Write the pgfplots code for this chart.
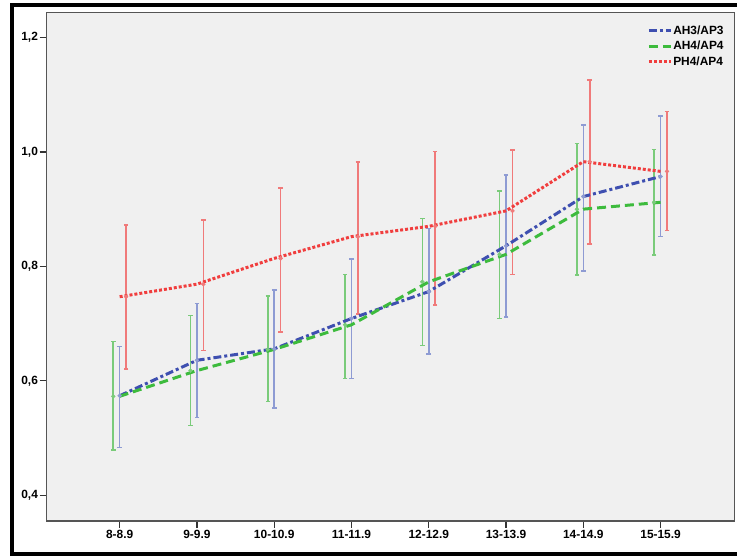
\documentclass[border=0pt]{standalone}
\usepackage{pgfplots}
\pgfplotsset{compat=1.18}
\usepackage{pgfplotstable}
\usepackage{fontspec}
\setmainfont{Liberation Sans}
\definecolor{lblue}{HTML}{3E4FB0}
\definecolor{lgreen}{HTML}{3DBB3D}
\definecolor{lred}{HTML}{F03E3E}
\definecolor{eblue}{HTML}{8E9BD3}
\definecolor{egreen}{HTML}{7ACB7A}
\definecolor{ered}{HTML}{F07A7A}
\definecolor{bgc}{HTML}{F0F0F0}
\definecolor{axgray}{HTML}{555555}

% x  mean  upper  lower
\pgfplotstableread{
x y hi lo
0 0.574 0.660 0.484
1 0.636 0.735 0.536
2 0.656 0.759 0.553
3 0.709 0.813 0.604
4 0.756 0.866 0.647
5 0.836 0.960 0.712
6 0.922 1.047 0.792
7 0.957 1.063 0.852
}\tblue
\pgfplotstableread{
x y hi lo
0 0.573 0.669 0.479
1 0.618 0.714 0.522
2 0.655 0.748 0.564
3 0.698 0.786 0.604
4 0.773 0.884 0.662
5 0.821 0.932 0.709
6 0.900 1.015 0.785
7 0.912 1.004 0.820
}\tgreen
\pgfplotstableread{
x y hi lo
0 0.747 0.872 0.621
1 0.769 0.881 0.653
2 0.814 0.937 0.685
3 0.852 0.982 0.717
4 0.870 1.001 0.733
5 0.897 1.003 0.786
6 0.983 1.126 0.839
7 0.966 1.071 0.863
}\tred

\begin{document}
\begin{tikzpicture}
\begin{axis}[
  at={(46.7bp,-12.3bp)}, anchor=north west,
  scale only axis, width=690.3bp, height=510.4bp,
  xmin=-0.946, xmax=7.96, ymin=0.355, ymax=1.244,
  axis background/.style={fill=bgc},
  axis line style={draw=axgray, line width=1.3bp},
  xtick={0,1,2,3,4,5,6,7},
  xticklabels={8-8.9,9-9.9,10-10.9,11-11.9,12-12.9,13-13.9,14-14.9,15-15.9},
  ytick={0.4,0.6,0.8,1.0,1.2},
  tick align=outside, xtick pos=bottom, ytick pos=left,
  major tick length=7bp,
  tick style={draw=black!80, line width=1.2bp},
  /pgf/number format/.cd, use comma, fixed, fixed zerofill, precision=1, assume math mode=true,
  /pgfplots/.cd,
  ticklabel style={font=\bfseries\fontsize{12}{14}\selectfont, inner sep=1.5bp},
  legend style={at={(1,1)}, anchor=north east, xshift=-7bp, yshift=-10bp,
    draw=none, fill=none, font=\bfseries\fontsize{12}{14}\selectfont,
    row sep=3.5bp, nodes={inner sep=1bp}},
  legend cell align=left,
  legend image code/.code={\draw[#1] (0bp,0bp) -- (22bp,0bp);},
]
% error bars
\addplot[forget plot, only marks, mark=none, color=egreen,
  error bars/.cd, y dir=both, y explicit, error mark=-,
  error bar style={line width=1.6bp, color=egreen},
  error mark options={rotate=90, mark size=2.3bp, line width=1.5bp, color=egreen}]
  table[x expr=\thisrow{x}-0.083, y=y, y error plus expr=\thisrow{hi}-\thisrow{y}, y error minus expr=\thisrow{y}-\thisrow{lo}] {\tgreen};
\addplot[forget plot, only marks, mark=none, color=eblue,
  error bars/.cd, y dir=both, y explicit, error mark=-,
  error bar style={line width=1.6bp, color=eblue},
  error mark options={rotate=90, mark size=2.3bp, line width=1.5bp, color=eblue}]
  table[x=x, y=y, y error plus expr=\thisrow{hi}-\thisrow{y}, y error minus expr=\thisrow{y}-\thisrow{lo}] {\tblue};
\addplot[forget plot, only marks, mark=none, color=ered,
  error bars/.cd, y dir=both, y explicit, error mark=-,
  error bar style={line width=1.6bp, color=ered},
  error mark options={rotate=90, mark size=2.3bp, line width=1.5bp, color=ered}]
  table[x expr=\thisrow{x}+0.083, y=y, y error plus expr=\thisrow{hi}-\thisrow{y}, y error minus expr=\thisrow{y}-\thisrow{lo}] {\tred};
% lines
\addplot[color=lblue, line width=3bp, dash pattern=on 8bp off 3bp on 3bp off 3bp, mark=none] table[x=x,y=y] {\tblue};
\addlegendentry{AH3/AP3}
\addplot[color=lgreen, line width=3bp, dash pattern=on 9bp off 5bp, mark=none] table[x=x,y=y] {\tgreen};
\addlegendentry{AH4/AP4}
\addplot[color=lred, line width=3bp, dash pattern=on 3bp off 2bp, mark=none] table[x=x,y=y] {\tred};
\addlegendentry{PH4/AP4}
\end{axis}
\draw[line width=4.5bp, black] (739bp,-5.2bp) -- (12bp,-5.2bp) -- (12bp,-555.5bp) -- (739bp,-555.5bp);
\path[use as bounding box] (0,0) rectangle (739bp,-558bp);
\end{tikzpicture}
\end{document}
